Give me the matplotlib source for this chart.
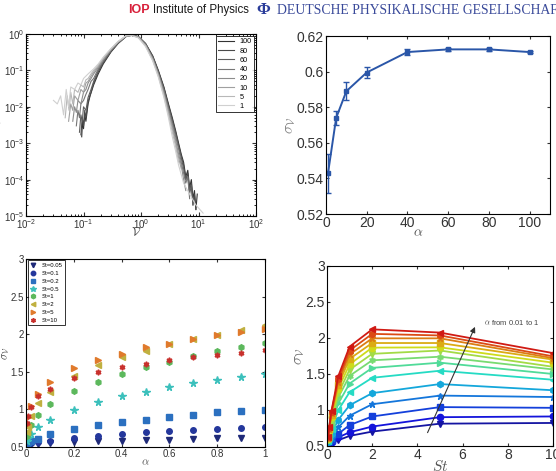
import numpy as np
import matplotlib
matplotlib.use('Agg')
import matplotlib.pyplot as plt

plt.rcParams['font.family'] = ['Liberation Sans', 'DejaVu Sans']
plt.rcParams['mathtext.fontset'] = 'cm'
plt.rcParams['xtick.direction'] = 'in'
plt.rcParams['ytick.direction'] = 'in'
plt.rcParams['xtick.top'] = True
plt.rcParams['ytick.right'] = True
plt.rcParams['axes.linewidth'] = 0.8

# ---- panel a: PDFs of the Voronoi volume for several alpha ----
pdf_labels = ['100', '80', '60', '40', '20', '10', '5', '1']
nu_100 = [0.093, 0.096, 0.10, 0.105, 0.11, 0.12, 0.13, 0.15, 0.18, 0.22, 0.3, 0.4, 0.55, 0.7, 0.9, 1.2, 1.6,
          2.0, 2.5, 3.0, 3.5, 4.0, 4.5, 5.0, 5.5, 6.0, 6.5, 7.0, 7.5, 8.0, 8.5, 9.0, 9.5]
p_100 = [0.0015, 0.004, 0.0025, 0.006, 0.004, 0.012, 0.02, 0.04, 0.08, 0.15, 0.32, 0.55, 0.85, 0.93, 0.85, 0.55,
         0.25, 0.1, 0.035, 0.012, 0.005, 0.0022, 0.001, 0.0005, 0.0003, 0.00012, 0.00018, 0.00006, 0.0001,
         0.00003, 0.00005, 0.000015, 0.00004]
nu_80 = [0.09, 0.095, 0.1, 0.105, 0.11, 0.12, 0.135, 0.15, 0.18, 0.22, 0.3, 0.4, 0.55, 0.7, 0.9, 1.2, 1.6, 2.0,
         2.5, 3.0, 3.5, 4.0, 4.5, 5.0, 5.5, 6.0, 6.5, 7.0, 7.5, 8.0, 8.5, 9.0]
p_80 = [0.0017, 0.005, 0.003, 0.008, 0.005, 0.014, 0.025, 0.045, 0.09, 0.16, 0.33, 0.56, 0.86, 0.93, 0.85, 0.54,
        0.24, 0.095, 0.033, 0.011, 0.0045, 0.002, 0.0009, 0.00045, 0.00025, 0.0001, 0.00015, 0.00005, 0.00008,
        0.00002, 0.00004, 0.000015]
nu_60 = [0.085, 0.09, 0.095, 0.1, 0.11, 0.12, 0.135, 0.15, 0.18, 0.22, 0.3, 0.4, 0.55, 0.7, 0.9, 1.2, 1.6, 2.0,
         2.5, 3.0, 3.5, 4.0, 4.5, 5.0, 5.5, 6.0, 6.5, 7.0, 7.5, 8.0]
p_60 = [0.002, 0.006, 0.004, 0.01, 0.008, 0.018, 0.03, 0.05, 0.1, 0.17, 0.34, 0.57, 0.87, 0.93, 0.84, 0.53, 0.23,
        0.09, 0.03, 0.01, 0.004, 0.0018, 0.0008, 0.0004, 0.0002, 0.0001, 0.00012, 0.00004, 0.00007, 0.00002]
nu_40 = [0.075, 0.08, 0.085, 0.09, 0.1, 0.11, 0.12, 0.135, 0.15, 0.18, 0.22, 0.3, 0.4, 0.55, 0.7, 0.9, 1.2, 1.6,
         2.0, 2.5, 3.0, 3.5, 4.0, 4.5, 5.0, 5.5, 6.0, 6.5, 7.0]
p_40 = [0.003, 0.008, 0.005, 0.012, 0.015, 0.022, 0.03, 0.05, 0.06, 0.11, 0.18, 0.35, 0.58, 0.87, 0.92, 0.83,
        0.52, 0.22, 0.085, 0.028, 0.009, 0.0035, 0.0015, 0.0007, 0.0003, 0.00015, 0.00008, 0.00012, 0.00003]
nu_20 = [0.065, 0.07, 0.075, 0.08, 0.09, 0.1, 0.11, 0.12, 0.135, 0.15, 0.18, 0.22, 0.3, 0.4, 0.55, 0.7, 0.9, 1.2,
         1.6, 2.0, 2.5, 3.0, 3.5, 4.0, 4.5, 5.0, 5.5, 6.0]
p_20 = [0.004, 0.01, 0.007, 0.015, 0.012, 0.025, 0.03, 0.045, 0.06, 0.08, 0.12, 0.2, 0.37, 0.6, 0.88, 0.92, 0.82,
        0.5, 0.21, 0.08, 0.025, 0.008, 0.003, 0.0012, 0.0005, 0.00025, 0.0001, 0.00005]
nu_10 = [0.055, 0.06, 0.065, 0.07, 0.08, 0.09, 0.1, 0.11, 0.12, 0.135, 0.15, 0.18, 0.22, 0.3, 0.4, 0.55, 0.7, 0.9,
         1.2, 1.6, 2.0, 2.5, 3.0, 3.5, 4.0, 4.5, 5.0]
p_10 = [0.004, 0.012, 0.008, 0.02, 0.015, 0.03, 0.025, 0.045, 0.05, 0.07, 0.09, 0.13, 0.21, 0.38, 0.61, 0.88, 0.92,
        0.81, 0.49, 0.2, 0.075, 0.022, 0.007, 0.0025, 0.001, 0.0004, 0.0002]
nu_5 = [0.048, 0.052, 0.056, 0.06, 0.065, 0.07, 0.08, 0.09, 0.1, 0.11, 0.12, 0.135, 0.15, 0.18, 0.22, 0.3, 0.4,
        0.55, 0.7, 0.9, 1.2, 1.6, 2.0, 2.5, 3.0, 3.5, 4.0, 4.5]
p_5 = [0.005, 0.02, 0.008, 0.025, 0.012, 0.03, 0.025, 0.04, 0.035, 0.055, 0.06, 0.08, 0.1, 0.14, 0.22, 0.39, 0.62,
       0.89, 0.91, 0.8, 0.47, 0.19, 0.07, 0.02, 0.006, 0.002, 0.0008, 0.0003]
nu_1 = [0.03, 0.035, 0.04, 0.045, 0.05, 0.055, 0.06, 0.07, 0.08, 0.09, 0.1, 0.12, 0.15, 0.18, 0.22, 0.3, 0.4, 0.55,
        0.7, 0.9, 1.2, 1.6, 2.0, 2.5, 3.0, 3.5, 4.0, 4.5, 5.5, 7.0, 9.0, 12.0]
p_1 = [0.015, 0.012, 0.02, 0.006, 0.03, 0.01, 0.035, 0.03, 0.045, 0.04, 0.06, 0.08, 0.11, 0.15, 0.23, 0.4, 0.63,
       0.9, 0.9, 0.78, 0.45, 0.18, 0.065, 0.018, 0.005, 0.0015, 0.0006, 0.00025, 0.00008, 0.00004, 0.00002,
       0.000012]
pdf_curves = [(nu_100, p_100), (nu_80, p_80), (nu_60, p_60), (nu_40, p_40),
              (nu_20, p_20), (nu_10, p_10), (nu_5, p_5), (nu_1, p_1)]
pdf_greys = ['#333333', '#4a4a4a', '#5e5e5e', '#767676', '#8c8c8c', '#a0a0a0', '#b8b8b8', '#d0d0d0']

# ---- panel b: sigma vs alpha (St fixed) ----
alpha_b = [1, 5, 10, 20, 40, 60, 80, 100]
sigma_b = [0.543, 0.574, 0.589, 0.5995, 0.611, 0.6125, 0.6125, 0.611]
err_b = [0.011, 0.004, 0.005, 0.003, 0.0015, 0.0007, 0.0007, 0.0008]

# ---- panels c, d: sigma(alpha, St) ----
St = [0.05, 0.1, 0.2, 0.5, 1, 2, 5, 10]
St_labels = ['St=0.05', 'St=0.1', 'St=0.2', 'St=0.5', 'St=1', 'St=2', 'St=5', 'St=10']
alpha = [0.005, 0.01, 0.02, 0.05, 0.1, 0.2, 0.3, 0.4, 0.5, 0.6, 0.7, 0.8, 0.9, 1.0]
sigma = [
    [0.53, 0.54, 0.55, 0.58, 0.64, 0.70, 0.81, 0.82],
    [0.535, 0.545, 0.56, 0.62, 0.69, 0.77, 0.90, 0.91],
    [0.54, 0.55, 0.58, 0.67, 0.79, 0.91, 1.04, 1.03],
    [0.545, 0.565, 0.61, 0.76, 0.92, 1.08, 1.20, 1.18],
    [0.558, 0.58, 0.673, 0.865, 1.065, 1.234, 1.36, 1.274],
    [0.571, 0.625, 0.74, 0.998, 1.247, 1.447, 1.545, 1.42],
    [0.575, 0.65, 0.789, 1.092, 1.367, 1.585, 1.657, 1.50],
    [0.585, 0.673, 0.834, 1.176, 1.474, 1.69, 1.74, 1.563],
    [0.593, 0.696, 0.865, 1.234, 1.559, 1.78, 1.826, 1.60],
    [0.598, 0.71, 0.90, 1.296, 1.634, 1.866, 1.87, 1.657],
    [0.607, 0.73, 0.927, 1.35, 1.71, 1.93, 1.93, 1.70],
    [0.616, 0.74, 0.96, 1.39, 1.772, 1.995, 1.995, 1.72],
    [0.62, 0.754, 0.975, 1.425, 1.826, 2.057, 2.035, 1.745],
    [0.625, 0.767, 0.99, 1.47, 1.88, 2.12, 2.075, 1.79],
]
sig = np.array(sigma)

st_colors = ['#1f2a78', '#24379c', '#2b70c0', '#3cc0bc', '#5cb85c', '#c0b040', '#e07a2c', '#c8302c']
markers = ['v', 'o', 's', '*', 'h', '<', '>', (6, 1, 0)]

fig = plt.figure(figsize=(5.56, 4.71), dpi=100)

# header
fig.text(0.231, 0.978, 'IOP', color='#d8203a', fontsize=9, fontweight='bold', va='center')
fig.text(0.276, 0.978, 'Institute of Physics', color='#1a1a1a', fontsize=8.3, va='center',
         family=['Liberation Sans Narrow', 'Liberation Sans'])
fig.text(0.462, 0.978, '\u03a6', color='#2a3c9a', fontsize=12, fontweight='bold', va='center',
         family=['Liberation Serif'])
fig.text(0.499, 0.978, 'DEUTSCHE PHYSIKALISCHE GESELLSCHAFT', color='#3a4a9a', fontsize=9.9, va='center',
         family=['Liberation Serif'])

# ---- a ----
ax1 = fig.add_axes([0.0468, 0.5414, 0.4137, 0.3864])
for (nu, p), lab, c in zip(pdf_curves, pdf_labels, pdf_greys):
    ax1.loglog(nu, p, color=c, lw=0.8, label=lab)
ax1.set_xlim(1e-2, 1e2)
ax1.set_ylim(1e-5, 1e0)
ax1.tick_params(labelsize=7, colors='#333333', pad=1, length=3)
ax1.tick_params(which='minor', length=1.5)
ax1.set_xlabel(r'$\mathcal{V}$', fontsize=9, labelpad=-4, color='#444444')
ax1.xaxis.set_label_coords(0.48, -0.06)
ax1.set_ylabel(r'$P(\mathcal{V})$', fontsize=9, color='#444444')
ax1.yaxis.set_label_coords(-0.1, 0.47)
leg = ax1.legend(loc='upper right', fontsize=5.2, handlelength=2.2, frameon=True, fancybox=False,
                 edgecolor='black', borderaxespad=0.3, labelspacing=0.3, borderpad=0.3)
leg.get_frame().set_linewidth(0.7)

# ---- b ----
ax2 = fig.add_axes([0.5863, 0.5456, 0.4029, 0.3779])
ax2.errorbar(alpha_b, sigma_b, yerr=err_b, color='#2a56a8', lw=1.4, marker='s', ms=3.5,
             capsize=2.5, elinewidth=1.0, capthick=1.0)
ax2.set_xlim(0, 110)
ax2.set_ylim(0.52, 0.62)
ax2.set_xticks([0, 20, 40, 60, 80, 100])
ax2.set_yticks([0.52, 0.54, 0.56, 0.58, 0.6, 0.62])
ax2.set_yticklabels(['0.52', '0.54', '0.56', '0.58', '0.6', '0.62'])
ax2.tick_params(labelsize=10, colors='#333333', pad=1.5, length=2)
ax2.set_xlabel(r'$\alpha$', fontsize=10, color='#555555')
ax2.xaxis.set_label_coords(0.41, -0.065)
ax2.set_ylabel(r'$\sigma_{\mathcal{V}}$', fontsize=11, labelpad=0, color='#888888')

# ---- c ----
ax3 = fig.add_axes([0.0468, 0.0510, 0.4299, 0.3992])
for j in range(len(St)):
    ax3.plot(alpha, sig[:, j], ls='none', marker=markers[j], color=st_colors[j], ms=4 if j != 3 else 5.5,
             label=St_labels[j])
ax3.set_xlim(0, 1)
ax3.set_ylim(0.5, 3)
ax3.set_xticks([0, 0.2, 0.4, 0.6, 0.8, 1])
ax3.set_xticklabels(['0', '0.2', '0.4', '0.6', '0.8', '1'])
ax3.set_yticks([0.5, 1, 1.5, 2, 2.5, 3])
ax3.set_yticklabels(['0.5', '1', '1.5', '2', '2.5', '3'])
ax3.tick_params(labelsize=7, colors='#333333', pad=1.5, length=2.5)
ax3.set_xlabel(r'$\alpha$', fontsize=8, labelpad=-1, color='#555555')
ax3.set_ylabel(r'$\sigma_{\mathcal{V}}$', fontsize=8, labelpad=-1, color='#444444')
leg3 = ax3.legend(loc='upper left', fontsize=4.3, handlelength=1.2, frameon=True, fancybox=False,
                  edgecolor='black', borderaxespad=0.25, labelspacing=0.45, borderpad=0.4, markerscale=0.8)
leg3.get_frame().set_linewidth(0.7)

# ---- d ----
ax4 = fig.add_axes([0.5881, 0.0531, 0.4065, 0.3822])
jet = plt.get_cmap('jet')
for i in range(len(alpha)):
    c = np.array(jet(0.05 + 0.85 * i / (len(alpha) - 1))[:3]) * 0.78 + 0.08
    ax4.plot(St, sig[i], color=c, lw=1.3, marker=markers[i % 8], ms=4.5)
ax4.set_xlim(0, 10)
ax4.set_ylim(0.5, 3)
ax4.set_xticks([0, 2, 4, 6, 8, 10])
ax4.set_yticks([0.5, 1, 1.5, 2, 2.5, 3])
ax4.set_yticklabels(['0.5', '1', '1.5', '2', '2.5', '3'])
ax4.tick_params(labelsize=10, colors='#333333', pad=1.5, length=2)
ax4.set_xlabel(r'$St$', fontsize=11, labelpad=-2, color='#555555')
ax4.set_ylabel(r'$\sigma_{\mathcal{V}}$', fontsize=11, labelpad=0, color='#777777')
ax4.annotate('', xy=(6.6, 2.19), xytext=(4.4, 0.65),
             arrowprops=dict(arrowstyle='-|>', color='#333333', lw=0.8, mutation_scale=8))
ax4.text(6.95, 2.22, r'$\alpha$ from 0.01 to 1', fontsize=5.5, color='#444444', va='center')

fig.savefig('out.png', dpi=100)
